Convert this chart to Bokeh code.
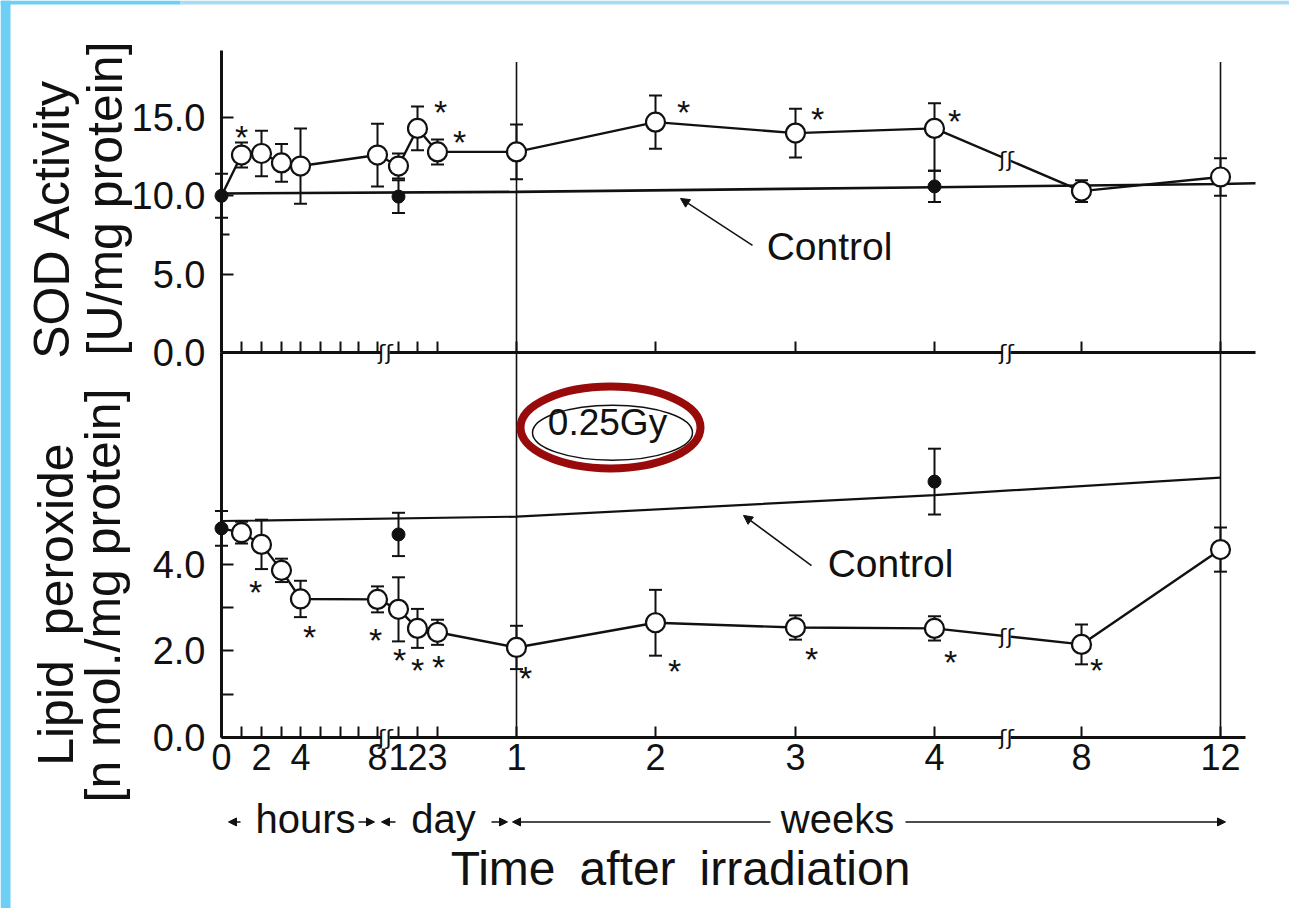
import math
import numpy as np
from bokeh.plotting import figure
from bokeh.models import (Range1d, LinearAxis, FixedTicker, NumeralTickFormatter,
                          ColumnDataSource, Whisker, TeeHead, Arrow, NormalHead)
from bokeh.core.properties import value
from bokeh.embed import file_html
from bokeh.resources import INLINE

# ---------------- data ----------------
# broken time axis: hours 0-8, days 1-3, weeks 1-12
time_keys = ["0h", "1h", "2h", "3h", "4h", "5h", "6h", "7h", "8h",
             "1d", "2d", "3d", "1w", "2w", "3w", "4w", "8w", "12w"]
time_pos = [0, 20, 40, 60, 79, 99, 119, 137, 156,
            177, 196, 216, 295, 434, 574, 713, 860, 999]
time_tick_labels = ["0", "", "2", "", "4", "", "", "", "8",
                    "1", "2", "3", "1", "2", "3", "4", "8", "12"]
axis_breaks = [164, 785]
POS = dict(zip(time_keys, time_pos))

# SOD activity [U/mg protein], 0.25 Gy
sod_times = ["0h", "1h", "2h", "3h", "4h", "8h", "1d", "2d", "3d",
             "1w", "2w", "3w", "4w", "8w", "12w"]
sod_mean = [10.0, 12.6, 12.7, 12.1, 11.9, 12.6, 11.9, 14.3, 12.8,
            12.8, 14.7, 14.0, 14.3, 10.3, 11.2]
sod_err_lo = [0, 0.8, 1.45, 1.2, 2.4, 2.0, 0.8, 1.4, 0.8,
              1.75, 1.7, 1.55, 2.7, 0.7, 1.2]
sod_err_hi = [0, 0.8, 1.45, 1.2, 2.4, 2.0, 0.8, 1.4, 0.8,
              1.75, 1.7, 1.55, 1.6, 0.7, 1.2]
sod_sig = ["1h", "2d", "3d", "2w", "3w", "4w"]

# SOD control
sod_ctrl_times = ["0h", "1d", "4w"]
sod_ctrl_mean = [10.0, 9.95, 10.6]
sod_ctrl_err = [1.4, 1.05, 1.0]
sod_ctrl_line_times = ["0h", "1w", "4w", "12w"]
sod_ctrl_line = [10.15, 10.25, 10.55, 10.75]
sod_ctrl_line_end = 10.8

# Lipid peroxide [n mol./mg protein], 0.25 Gy
lip_times = ["0h", "1h", "2h", "3h", "4h", "8h", "1d", "2d", "3d",
             "1w", "2w", "3w", "4w", "8w", "12w"]
lip_mean = [4.83, 4.73, 4.46, 3.86, 3.2, 3.19, 2.96, 2.52, 2.43,
            2.08, 2.65, 2.54, 2.52, 2.15, 4.34]
lip_err = [0, 0.25, 0.57, 0.27, 0.42, 0.3, 0.74, 0.45, 0.29,
           0.5, 0.76, 0.28, 0.28, 0.46, 0.51]
lip_sig = ["2h", "4h", "8h", "1d", "2d", "3d", "1w", "2w", "3w", "4w", "8w"]

# Lipid control
lip_ctrl_times = ["0h", "1d", "4w"]
lip_ctrl_mean = [4.83, 4.69, 5.91]
lip_ctrl_err = [0.4, 0.5, 0.76]
lip_ctrl_line_times = ["0h", "1w", "4w", "12w"]
lip_ctrl_line = [5.0, 5.1, 5.6, 6.0]

# ---------------- styles / layout ----------------
FONT = "Liberation Sans"
INK = "#111111"
RED = "#990a0a"
W, H = 1289, 908
X0, X1 = -221, 1068            # x data range (frame)
LIP = (-3.949, 17.021)         # lipid y range
SOD = (-35.48, 22.463)         # SOD y range
top_axis_end, bot_axis_end = 1034, 1024
star_off_sod = {"1h": (0, -24), "2d": (23, -22), "3d": (22, -16),
                "2w": (28, -16), "3w": (22, -20), "4w": (20, -13)}
star_off_lip = {"2h": (-6, 42), "4h": (9, 32), "8h": (-2, 35), "1d": (1, 45),
                "2d": (0, 36), "3d": (1, 29), "1w": (9, 25), "2w": (19, 42),
                "3w": (16, 25), "4w": (16, 28), "8w": (15, 20)}
STAR_FS = 34
STAR_SHIFT = 6

p = figure(width=W, height=H, output_backend="svg", toolbar_location=None,
           x_range=Range1d(X0, X1), y_range=Range1d(*LIP),
           x_axis_type=None, y_axis_type=None, min_border=0)
p.extra_y_ranges = {"sod": Range1d(*SOD)}
p.outline_line_color = None
p.background_fill_color = "white"
p.border_fill_color = "white"

# slide border strips (left and top)
p.quad(left=[X0], right=[X0 + 10], bottom=[LIP[0]], top=[LIP[1]],
       fill_color="#6dcff6", line_color=None)
p.quad(left=[X0, X0 + 180], right=[X0 + 180, X1], bottom=[LIP[1] - 0.095] * 2,
       top=[LIP[1]] * 2, fill_color=["#6dcff6", "#a8dcf5"], line_color=None)


def style(ax):
    ax.axis_line_width = 3
    ax.axis_line_color = INK
    ax.major_tick_line_width = 2
    ax.major_tick_line_color = INK
    ax.minor_tick_line_width = 2
    ax.minor_tick_line_color = INK
    ax.major_label_text_font = FONT
    ax.major_label_text_color = INK
    return ax


# y axes
sod_ax = style(LinearAxis(y_range_name="sod", fixed_location=0, bounds=(0, 19.3),
                          ticker=FixedTicker(ticks=[0, 5, 10, 15], minor_ticks=[7.5]),
                          formatter=NumeralTickFormatter(format="0.0"),
                          major_tick_in=12, major_tick_out=0, minor_tick_in=8,
                          minor_tick_out=0, major_label_standoff=16))
sod_ax.major_label_text_font_size = "38px"
p.add_layout(sod_ax, "left")

lip_ax = style(LinearAxis(fixed_location=0, bounds=(0, 8.89),
                          ticker=FixedTicker(ticks=[0, 2, 4], minor_ticks=[1, 3]),
                          formatter=NumeralTickFormatter(format="0.0"),
                          major_tick_in=12, major_tick_out=0, minor_tick_in=12,
                          minor_tick_out=0, major_label_standoff=16))
lip_ax.major_label_text_font_size = "38px"
p.add_layout(lip_ax, "left")

# x axes
top_xax = style(LinearAxis(y_range_name="sod", fixed_location=0, bounds=(0, top_axis_end),
                           ticker=FixedTicker(ticks=time_pos, minor_ticks=[]),
                           major_label_overrides={k: "" for k in time_pos},
                           major_tick_in=11, major_tick_out=0))
p.add_layout(top_xax, "below")

bot_xax = style(LinearAxis(fixed_location=0, bounds=(0, bot_axis_end),
                           ticker=FixedTicker(ticks=time_pos, minor_ticks=[]),
                           major_label_overrides=dict(zip(time_pos, time_tick_labels)),
                           major_tick_in=11, major_tick_out=0, major_label_standoff=6))
bot_xax.major_label_text_font_size = "36px"
p.add_layout(bot_xax, "below")

# vertical reference lines at 1 and 12 weeks
vx = [POS["1w"], POS["12w"]]
p.segment(x0=vx, y0=[0, 0], x1=vx, y1=[15.6, 15.6], line_color=INK, line_width=1.6)

# ---------- SOD panel ----------
sx = [POS[t] for t in sod_times]
scx = [POS[t] for t in sod_ctrl_line_times] + [top_axis_end]
p.line(scx, sod_ctrl_line + [sod_ctrl_line_end], y_range_name="sod",
       line_color=INK, line_width=2.6)
p.line(sx, sod_mean, y_range_name="sod", line_color=INK, line_width=2.4)


def whisk(xs, means, lo, hi, rng):
    src = ColumnDataSource(dict(x=xs, up=[m + e for m, e in zip(means, hi)],
                                lo=[m - e for m, e in zip(means, lo)]))
    w = Whisker(source=src, base="x", upper="up", lower="lo", dimension="height",
                line_color=INK, line_width=2,
                upper_head=TeeHead(size=13, line_width=2, line_color=INK),
                lower_head=TeeHead(size=13, line_width=2, line_color=INK))
    if rng != "default":
        w.y_range_name = rng
    p.add_layout(w)


whisk(sx[1:], sod_mean[1:], sod_err_lo[1:], sod_err_hi[1:], "sod")
sc_x = [POS[t] for t in sod_ctrl_times]
whisk(sc_x, sod_ctrl_mean, sod_ctrl_err, sod_ctrl_err, "sod")

p.scatter(sx[1:], sod_mean[1:], y_range_name="sod", marker="circle", size=19,
          fill_color="white", line_color=INK, line_width=2.2)
p.scatter(sc_x, sod_ctrl_mean, y_range_name="sod", marker="circle", size=13,
          fill_color=INK, line_color=INK, level="overlay")

ss = ColumnDataSource(dict(
    x=[POS[t] for t in sod_sig],
    y=[sod_mean[sod_times.index(t)] for t in sod_sig],
    xo=[star_off_sod[t][0] for t in sod_sig],
    yo=[star_off_sod[t][1] + STAR_SHIFT for t in sod_sig],
    t=["*"] * len(sod_sig)))
p.text(x="x", y="y", text="t", x_offset="xo", y_offset="yo", source=ss,
       y_range_name="sod", text_font=value(FONT), text_font_size=f"{STAR_FS}px",
       text_align="center", text_baseline="middle", text_color=INK)

# ---------- Lipid panel ----------
lx = [POS[t] for t in lip_times]
p.line([POS[t] for t in lip_ctrl_line_times], lip_ctrl_line,
       line_color=INK, line_width=2.2)
p.line(lx, lip_mean, line_color=INK, line_width=2.4)

whisk(lx[1:], lip_mean[1:], lip_err[1:], lip_err[1:], "default")
lc_x = [POS[t] for t in lip_ctrl_times]
whisk(lc_x, lip_ctrl_mean, lip_ctrl_err, lip_ctrl_err, "default")

p.scatter(lx[1:], lip_mean[1:], marker="circle", size=19,
          fill_color="white", line_color=INK, line_width=2.2)
p.scatter(lc_x, lip_ctrl_mean, marker="circle", size=13,
          fill_color=INK, line_color=INK, level="overlay")

ls = ColumnDataSource(dict(
    x=[POS[t] for t in lip_sig],
    y=[lip_mean[lip_times.index(t)] for t in lip_sig],
    xo=[star_off_lip[t][0] for t in lip_sig],
    yo=[star_off_lip[t][1] + STAR_SHIFT for t in lip_sig],
    t=["*"] * len(lip_sig)))
p.text(x="x", y="y", text="t", x_offset="xo", y_offset="yo", source=ls,
       text_font=value(FONT), text_font_size=f"{STAR_FS}px",
       text_align="center", text_baseline="middle", text_color=INK)

# ---------- axis / line breaks ----------
wk_break = axis_breaks[1]
for rng, ys in (("sod", [0, 0, float(np.interp(wk_break, sx, sod_mean))]),
                ("default", [0, 0, float(np.interp(wk_break, lx, lip_mean))])):
    bx = axis_breaks + [wk_break]
    p.rect(x=bx, y=ys, width=8, height=22, width_units="screen", height_units="screen",
           fill_color="white", line_color=None, y_range_name=rng, level="overlay")
    p.text(x=bx, y=ys, text=["ʃʃ"] * 3, y_range_name=rng, level="overlay",
           text_font=value("DejaVu Sans"), text_font_size="22px", text_color=INK,
           text_align="center", text_baseline="middle")

# ---------- annotations ----------
p.text(x=[608], y=[6.76], text=["Control"], y_range_name="sod", text_font=value(FONT),
       text_font_size="39px", text_align="center", text_baseline="middle",
       text_color=INK)
p.add_layout(Arrow(x_start=531, y_start=6.83, x_end=459, y_end=9.83, y_range_name="sod",
                   line_color=INK, line_width=1.5,
                   end=NormalHead(size=9, fill_color=INK, line_color=INK)))
p.text(x=[669], y=[4.02], text=["Control"], text_font=value(FONT),
       text_font_size="39px", text_align="center", text_baseline="middle",
       text_color=INK)
p.add_layout(Arrow(x_start=590, y_start=3.97, x_end=522, y_end=5.13,
                   line_color=INK, line_width=1.5,
                   end=NormalHead(size=9, fill_color=INK, line_color=INK)))

# 0.25Gy label with ellipses
p.ellipse(x=[389], y=[7.16], width=180, height=1.89, fill_color=None,
          line_color=RED, line_width=8)
p.ellipse(x=[391], y=[7.04], width=160, height=1.27, fill_color=None,
          line_color=INK, line_width=1.5)
p.text(x=[386], y=[7.27], text=["0.25Gy"], text_font=value(FONT),
       text_font_size="37px", text_align="center", text_baseline="middle",
       text_color=INK)

# y axis titles
for xv, yv, txt, rng in ((-170, 8.55, "SOD Activity", "sod"),
                         (-117, 9.83, "[U/mg protein]", "sod"),
                         (-166, 3.07, "Lipid\u2002peroxide", "default"),
                         (-119, 3.28, "[n mol./mg protein]", "default")):
    p.text(x=[xv], y=[yv], text=[txt], y_range_name=rng, angle=math.pi / 2,
           text_font=value(FONT), text_font_size="50px", text_align="center",
           text_baseline="middle", text_color=INK)

# x axis: period row and title
p.text(x=[84, 222, 616], y=[-1.89, -1.89, -1.89], text=["hours", "day", "weeks"],
       text_font=value(FONT), text_font_size="40px", text_align="center",
       text_baseline="middle", text_color=INK)
arr_y = -1.95
for xs, xe in ((19, 7), (137, 153), (174, 160), (270, 286), (549, 291), (684, 1004)):
    p.add_layout(Arrow(x_start=xs, y_start=arr_y, x_end=xe, y_end=arr_y,
                       line_color=INK, line_width=1.6,
                       end=NormalHead(size=8, fill_color=INK, line_color=INK)))
p.text(x=[459], y=[-3.03], text=["Time\u2002after\u2002irradiation"], text_font=value(FONT),
       text_font_size="48px", text_align="center", text_baseline="middle",
       text_color=INK)

open("out.html", "w").write(file_html(p, INLINE))
